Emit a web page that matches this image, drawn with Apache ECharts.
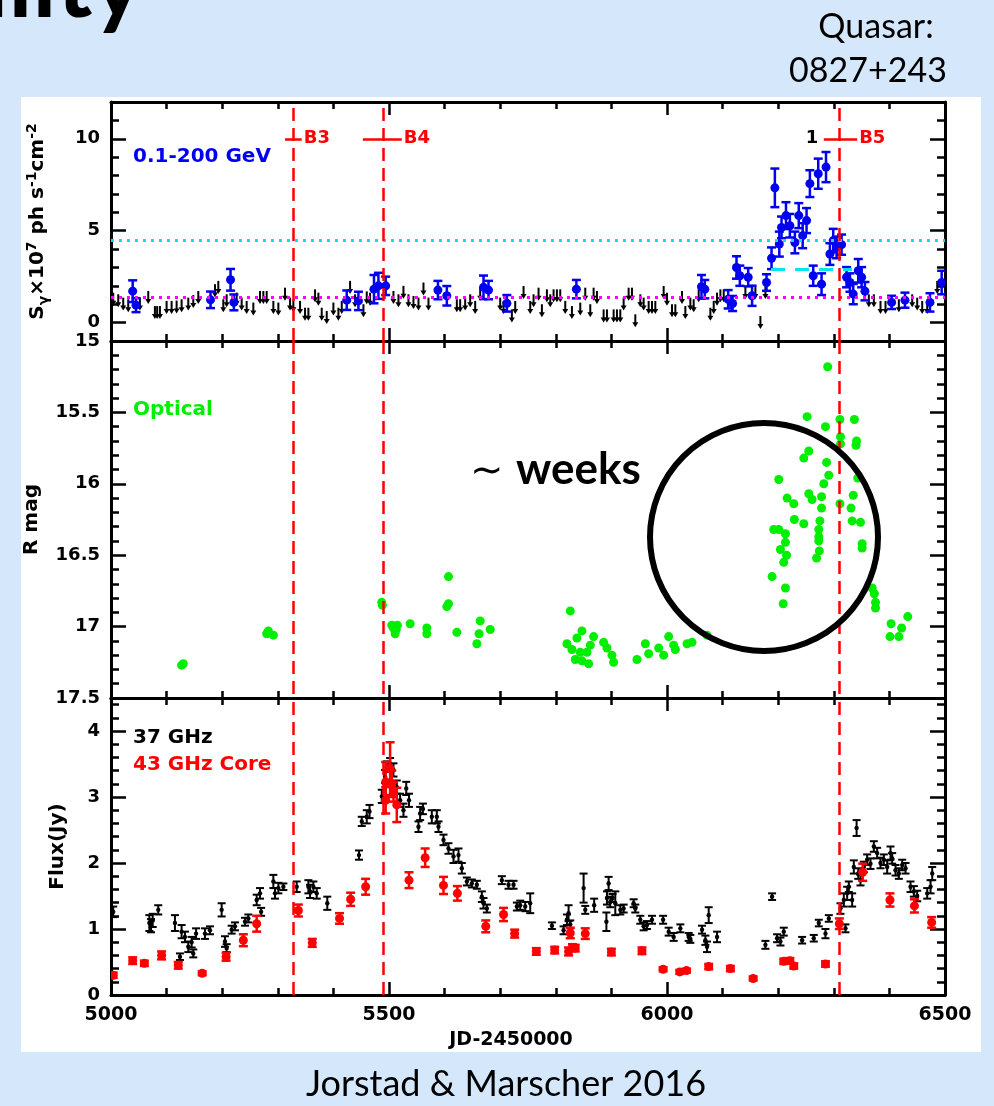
<!DOCTYPE html>
<html>
<head>
<meta charset="utf-8">
<title>0827+243 multi-wavelength light curves</title>
<script src="https://cdn.jsdelivr.net/npm/echarts@6/dist/echarts.min.js"></script>
<style>
  html, body { margin: 0; padding: 0; background: #d5e8fb; }
  #chart { width: 994px; height: 1106px; }
</style>
</head>
<body>
<div id="chart"></div>
<script>
// ---------------- data ----------------
// time axis (JD - 2450000)
const X_MIN = 5000, X_MAX = 6500, X_STEP = 500;

// y ranges, minor steps and labelled ticks of the three panels
const gammaRange = [-1, 12], gammaMinor = 1, gammaTicks = [0, 5, 10];
const magRange = [15, 17.5], magMinor = 0.1, magTicks = [15, 15.5, 16, 16.5, 17, 17.5];
const fluxRange = [0, 4.5], fluxMinor = 0.2, fluxTicks = [0, 1, 2, 3, 4];

// flare epochs (vertical dashed lines) and their time spans
const burstNames = ['B3', 'B4', 'B5'];
const burstJD = [5327, 5489, 6309];
const burstStart = [5313, 5453, 6282];
const burstEnd = [5343, 5523, 6342];
const burstLevel = 10;
const gammaFlareTag = { text: '1', jd: 6261, level: 10 };

// gamma-ray reference levels
const gammaMeanLevel = 1.36;
const gammaHighLevel = 4.46;
const gammaFlareLevel = 2.9;
const gammaFlareSpan = [6187, 6333];

// Fermi 0.1-200 GeV detections
const gammaJD = [5039, 5045, 5179, 5215, 5221, 5424, 5445, 5473, 5481, 5494, 5588, 5604, 5670, 5679, 5712,
  5837, 6062, 6068, 6110, 6118, 6125, 6131, 6146, 6153, 6179, 6188, 6194, 6202, 6206, 6214, 6221, 6230,
  6237, 6244, 6251, 6257, 6263, 6272, 6278, 6286, 6293, 6299, 6305, 6314, 6323, 6329, 6335, 6344, 6350,
  6356, 6404, 6428, 6473, 6494];
const gammaFlux = [1.71, 0.95, 1.24, 2.33, 1.10, 1.22, 1.18, 1.82, 2.00, 2.00, 1.77, 1.46, 1.92, 1.77, 1.05,
  1.82, 1.95, 1.82, 1.27, 1.04, 3.00, 2.55, 2.47, 1.46, 2.18, 3.50, 7.33, 4.27, 5.18, 5.82, 5.27, 4.36,
  5.82, 4.73, 5.55, 7.56, 2.55, 8.10, 2.09, 8.46, 3.73, 4.46, 4.09, 4.24, 2.47, 2.18, 1.55, 2.82, 2.47,
  1.71, 1.10, 1.22, 1.10, 2.18];
const gammaErr = [0.59, 0.38, 0.45, 0.59, 0.43, 0.53, 0.50, 0.77, 0.71, 0.50, 0.50, 0.53, 0.64, 0.50, 0.45,
  0.50, 0.64, 0.50, 0.50, 0.41, 0.61, 0.55, 0.50, 0.55, 0.45, 0.59, 1.05, 0.68, 0.59, 0.73, 0.64, 0.59,
  0.68, 0.68, 0.68, 0.73, 0.55, 0.82, 0.59, 0.82, 0.59, 0.64, 0.59, 0.55, 0.55, 0.50, 0.55, 0.64, 0.55,
  0.50, 0.36, 0.41, 0.50, 0.64];

// Fermi upper limits
const ulJD = [5004, 5013, 5022, 5031, 5052, 5067, 5079, 5083, 5088, 5100, 5109, 5118, 5127, 5139, 5148, 5157,
  5187, 5193, 5202, 5208, 5226, 5235, 5244, 5256, 5268, 5274, 5280, 5292, 5301, 5313, 5322, 5328, 5340,
  5349, 5355, 5367, 5373, 5379, 5388, 5400, 5409, 5415, 5430, 5439, 5454, 5460, 5466, 5508, 5517, 5526,
  5535, 5544, 5553, 5562, 5571, 5622, 5628, 5637, 5646, 5655, 5664, 5700, 5706, 5721, 5727, 5742, 5754,
  5760, 5769, 5775, 5784, 5790, 5796, 5802, 5808, 5817, 5829, 5844, 5853, 5862, 5868, 5874, 5886, 5892,
  5904, 5910, 5916, 5922, 5931, 5937, 5943, 5952, 5958, 5967, 5973, 5979, 5994, 6000, 6009, 6015, 6027,
  6033, 6042, 6048, 6057, 6078, 6084, 6090, 6096, 6102, 6141, 6159, 6168, 6177, 6363, 6372, 6384, 6393,
  6417, 6441, 6450, 6459, 6468, 6486];
const ulFlux = [1.63, 1.54, 1.36, 1.27, 1.36, 1.72, 0.90, 0.90, 0.90, 1.18, 1.18, 1.20, 1.27, 1.36, 1.50, 1.72,
  2.09, 2.27, 1.27, 1.54, 1.63, 1.36, 1.18, 1.09, 1.72, 1.72, 1.72, 1.18, 1.09, 1.90, 1.36, 1.27, 1.18,
  0.81, 0.81, 1.81, 1.63, 0.81, 0.63, 1.09, 0.81, 1.18, 2.27, 1.54, 1.00, 1.70, 1.63, 1.72, 1.54, 2.00,
  1.54, 1.45, 1.36, 2.18, 1.36, 1.27, 1.27, 1.36, 1.54, 1.18, 1.90, 1.36, 1.18, 0.72, 1.18, 1.99, 1.18,
  1.54, 1.90, 1.00, 1.81, 1.54, 1.81, 1.81, 1.81, 1.18, 0.90, 1.09, 1.90, 1.00, 1.90, 1.72, 0.72, 0.72,
  0.72, 0.72, 0.72, 1.36, 1.90, 1.90, 0.45, 1.54, 1.36, 1.18, 1.18, 1.18, 1.99, 1.63, 1.00, 1.00, 1.72,
  0.90, 1.36, 1.27, 1.81, 0.81, 1.18, 1.63, 1.81, 1.81, 1.99, 1.99, 0.36, 1.99, 1.54, 1.54, 1.18, 1.18,
  1.27, 1.54, 1.36, 1.18, 1.18, 2.27];

// optical R magnitudes
const optJD = [5127, 5130, 5280, 5283, 5292, 5487, 5488, 5505, 5508, 5511, 5513, 5515, 5538, 5568, 5568,
  5604, 5607, 5607, 5622, 5658, 5662, 5664, 5682,
  5820, 5826, 5829, 5835, 5838, 5844, 5847, 5847, 5856, 5859, 5862, 5868, 5886, 5892, 5901, 5904,
  5946, 5961, 5967, 5985, 5994, 6003, 6012, 6015, 6036, 6045, 6072,
  6189, 6192, 6201, 6204, 6209, 6210, 6213, 6213, 6213, 6215, 6201, 6216, 6228, 6229, 6246, 6246,
  6255, 6252, 6255, 6261, 6278, 6278, 6275, 6273, 6273, 6273, 6274, 6269, 6285, 6287, 6291, 6282,
  6289, 6311, 6312, 6312, 6311, 6337, 6341, 6340, 6343, 6335, 6331, 6333, 6348, 6351, 6351, 6369,
  6373, 6375, 6375, 6403, 6401, 6417, 6422, 6433];
const optMag = [17.27, 17.26, 17.05, 17.03, 17.06, 16.83, 16.85, 16.99, 17.01, 17.05, 17.02, 16.99, 16.98, 17.01, 17.05,
  16.86, 16.84, 16.65, 17.04, 17.12, 17.05, 16.96, 17.02,
  17.12, 16.89, 17.16, 17.23, 17.08, 17.18, 17.03, 17.24, 17.18, 17.26, 17.13, 17.07, 17.11, 17.15, 17.20, 17.25,
  17.23, 17.12, 17.19, 17.15, 17.20, 17.07, 17.13, 17.16, 17.12, 17.11, 17.06,
  16.65, 16.32, 16.32, 16.46, 16.84, 16.55, 16.35, 16.41, 16.73, 16.50, 15.97, 16.10, 16.14, 16.25, 16.28, 15.82,
  15.77, 15.53, 16.07, 16.11, 16.09, 16.17, 16.26, 16.32, 16.37, 16.40, 16.47, 16.52, 15.60, 15.85, 15.94, 16.00,
  15.18, 15.55, 15.67, 15.72, 16.14, 15.55, 15.70, 15.73, 15.96, 16.08, 16.17, 16.26, 16.27, 16.42, 16.45, 16.73,
  16.77, 16.83, 16.87, 16.98, 17.07, 17.07, 17.01, 16.93];

// 37 GHz single-dish flux density
const r37JD = [5004, 5069, 5072, 5075, 5085, 5115, 5124, 5127, 5133, 5139, 5145, 5148, 5153, 5169, 5178, 5199,
  5205, 5208, 5217, 5223, 5241, 5247, 5262, 5268, 5270, 5292, 5295, 5301, 5310, 5334, 5355, 5358, 5364,
  5370, 5389, 5446, 5451, 5460, 5465, 5487, 5493, 5496, 5502, 5508, 5514, 5520, 5526, 5531, 5536, 5553,
  5556, 5561, 5577, 5586, 5589, 5598, 5607, 5616, 5625, 5631, 5640, 5649, 5658, 5667, 5670, 5676, 5703,
  5715, 5724, 5730, 5736, 5745, 5754, 5793, 5814, 5820, 5823, 5826, 5850, 5853, 5869, 5891, 5892, 5895,
  5898, 5902, 5907, 5916, 5922, 5940, 5943, 5952, 5958, 5964, 5973, 5993, 6003, 6012, 6024, 6039, 6042,
  6063, 6069, 6072, 6075, 6090, 6177, 6189, 6198, 6204, 6210, 6243, 6264, 6273, 6285, 6291, 6312, 6318,
  6321, 6324, 6327, 6333, 6336, 6341, 6344, 6348, 6354, 6360, 6366, 6372, 6378, 6384, 6390, 6396, 6402,
  6405, 6411, 6417, 6423, 6429, 6438, 6444, 6450, 6468, 6474, 6477];
const r37Flux = [1.26, 1.09, 1.05, 1.13, 1.29, 1.09, 0.58, 0.96, 0.88, 0.73, 0.80, 0.63, 0.93, 0.93, 0.98, 1.29,
  0.81, 0.71, 0.99, 1.04, 1.11, 1.16, 1.44, 1.54, 1.26, 1.72, 1.54, 1.62, 1.64, 1.64, 1.64, 1.57, 1.64,
  1.54, 1.39, 2.12, 2.63, 2.70, 2.78, 3.01, 3.31, 3.46, 3.51, 3.41, 3.15, 2.95, 2.80, 3.13, 2.95, 2.55,
  2.75, 2.82, 2.70, 2.70, 2.55, 2.35, 2.22, 2.10, 2.12, 1.92, 1.72, 1.69, 1.67, 1.49, 1.39, 1.31, 1.74,
  1.67, 1.67, 1.34, 1.36, 1.34, 1.39, 1.05, 0.98, 1.14, 1.24, 1.07, 1.62, 1.29, 1.36, 1.11, 1.47, 1.69,
  1.41, 1.47, 1.39, 1.29, 1.31, 1.39, 1.31, 1.14, 1.04, 1.06, 1.14, 1.14, 0.96, 0.88, 1.01, 0.88, 0.85,
  0.99, 0.83, 0.73, 1.21, 0.88, 0.76, 1.49, 0.86, 0.81, 0.96, 0.83, 0.86, 1.09, 0.93, 1.16, 1.31, 1.44,
  1.01, 1.54, 1.64, 1.44, 1.94, 2.53, 1.84, 1.74, 1.94, 2.05, 1.99, 2.25, 2.15, 2.00, 2.05, 1.94, 2.15,
  2.07, 1.89, 1.84, 1.97, 1.92, 1.64, 1.57, 1.50, 1.54, 1.64, 1.84];
const r37Err = [0.08, 0.12, 0.10, 0.10, 0.07, 0.12, 0.05, 0.10, 0.08, 0.08, 0.08, 0.06, 0.08, 0.08, 0.06, 0.10,
  0.08, 0.06, 0.06, 0.06, 0.06, 0.06, 0.08, 0.08, 0.06, 0.10, 0.08, 0.08, 0.05, 0.08, 0.10, 0.10, 0.08,
  0.08, 0.10, 0.07, 0.07, 0.10, 0.10, 0.10, 0.10, 0.08, 0.08, 0.10, 0.10, 0.10, 0.10, 0.10, 0.10, 0.08,
  0.10, 0.08, 0.10, 0.10, 0.08, 0.08, 0.08, 0.10, 0.10, 0.08, 0.06, 0.06, 0.06, 0.08, 0.08, 0.06, 0.06,
  0.06, 0.06, 0.06, 0.07, 0.07, 0.15, 0.05, 0.06, 0.08, 0.12, 0.06, 0.22, 0.06, 0.10, 0.14, 0.10, 0.10,
  0.08, 0.06, 0.18, 0.07, 0.06, 0.06, 0.06, 0.06, 0.06, 0.06, 0.06, 0.06, 0.06, 0.06, 0.06, 0.06, 0.06,
  0.06, 0.07, 0.08, 0.12, 0.08, 0.06, 0.05, 0.06, 0.06, 0.06, 0.05, 0.05, 0.05, 0.07, 0.05, 0.08, 0.10,
  0.06, 0.10, 0.08, 0.10, 0.10, 0.12, 0.08, 0.08, 0.08, 0.08, 0.08, 0.08, 0.08, 0.08, 0.08, 0.10, 0.10,
  0.08, 0.08, 0.08, 0.08, 0.08, 0.08, 0.08, 0.08, 0.08, 0.10, 0.10];

// 43 GHz VLBA core flux density
const c43JD = [5004, 5039, 5060, 5091, 5121, 5164, 5207, 5238, 5262, 5337, 5362, 5411, 5431, 5458, 5494, 5494,
  5502, 5505, 5508, 5514, 5536, 5565, 5598, 5623, 5674, 5706, 5726, 5765, 5798, 5823, 5826, 5830, 5835,
  5853, 5900, 5955, 5993, 6023, 6035, 6075, 6114, 6155, 6210, 6221, 6228, 6285, 6310, 6352, 6401, 6445, 6476];
const c43Flux = [0.30, 0.52, 0.48, 0.60, 0.45, 0.33, 0.58, 0.83, 1.08, 1.28, 0.79, 1.16, 1.45, 1.64, 3.23, 2.95,
  3.43, 3.20, 3.08, 2.88, 1.74, 2.08, 1.66, 1.54, 1.04, 1.22, 0.93, 0.66, 0.68, 0.66, 0.94, 0.72, 0.71,
  0.93, 0.65, 0.67, 0.39, 0.35, 0.37, 0.43, 0.40, 0.25, 0.51, 0.52, 0.44, 0.47, 1.08, 1.86, 1.44, 1.35, 1.10];
const c43Err = [0.04, 0.05, 0.04, 0.06, 0.05, 0.03, 0.06, 0.09, 0.12, 0.09, 0.06, 0.08, 0.10, 0.12, 0.30, 0.20,
  0.40, 0.20, 0.15, 0.26, 0.12, 0.14, 0.13, 0.11, 0.09, 0.10, 0.06, 0.05, 0.05, 0.06, 0.08, 0.05, 0.05,
  0.08, 0.05, 0.05, 0.03, 0.03, 0.03, 0.04, 0.04, 0.03, 0.04, 0.04, 0.04, 0.04, 0.08, 0.13, 0.10, 0.10, 0.08];

// ---------------- layout & styles ----------------
const GRID_LEFT = 111, GRID_RIGHT = 49;
const panelTop = [102, 341, 698];
const panelHeight = [239, 357, 297];
const PLOT_FONT = '"DejaVu Sans", sans-serif';
const SLIDE_FONT = 'Lato, "Open Sans", sans-serif';
const BLUE = '#0000f0', GREEN = '#00ee00', RED = '#ff0000', BLACK = '#000000';
const CYAN = '#00e6ee', MAGENTA = '#ff00ff';

const zip3 = (a, b, c) => a.map((v, i) => [v, b[i], c ? c[i] : 0]);

function xAxes(g) {
  const base = {
    type: 'value', gridIndex: g, min: X_MIN, max: X_MAX, interval: X_STEP,
    splitLine: { show: false },
    axisLine: { show: true, onZero: false, lineStyle: { color: BLACK, width: 3 } },
    axisTick: { show: true, inside: true, length: 13, lineStyle: { color: BLACK, width: 2.5 } },
    minorTick: { show: true, splitNumber: 5, length: 7, lineStyle: { color: BLACK, width: 2.5 } }
  };
  return [
    Object.assign({}, base, {
      position: 'bottom',
      axisLabel: g === 2
        ? { show: true, margin: 11, color: BLACK, fontFamily: PLOT_FONT, fontWeight: 'bold', fontSize: 19,
            formatter: v => String(v) }
        : { show: false }
    }),
    Object.assign({}, base, { position: 'top', axisLabel: { show: false } })
  ];
}

function yAxes(g, range, step, ticks, name, nameGap, inverse, rich) {
  const out = [];
  ['left', 'right'].forEach(function (pos) {
    const common = {
      type: 'value', gridIndex: g, position: pos, min: range[0], max: range[1], interval: step,
      inverse: !!inverse, splitLine: { show: false }
    };
    // short ticks at every minor step
    out.push(Object.assign({}, common, {
      axisLine: { show: true, onZero: false, lineStyle: { color: BLACK, width: 3 } },
      axisTick: { show: true, inside: true, length: 8, lineStyle: { color: BLACK, width: 2.5 } },
      axisLabel: { show: false }
    }));
    // long ticks and labels at the labelled values
    out.push(Object.assign({}, common, {
      axisLine: { show: false, onZero: false },
      axisTick: { show: true, inside: true, length: 15, customValues: ticks, lineStyle: { color: BLACK, width: 2.5 } },
      axisLabel: pos === 'left'
        ? { show: true, customValues: ticks, margin: 11, color: BLACK, fontFamily: PLOT_FONT, fontWeight: 'bold', fontSize: 18,
            formatter: v => String(v) }
        : { show: false },
      name: pos === 'left' ? name : '',
      nameLocation: 'middle', nameGap: nameGap, nameRotate: 90,
      nameTextStyle: { color: BLACK, fontFamily: PLOT_FONT, fontWeight: 'bold', fontSize: 20, lineHeight: 26, rich: rich || {} }
    }));
  });
  return out;
}

// error bar with caps and a filled marker
function errorBarItem(color, r, cap, width) {
  return function (params, api) {
    const x = api.value(0), y = api.value(1), e = api.value(2);
    const p = api.coord([x, y]);
    const lo = api.coord([x, y - e])[1], hi = api.coord([x, y + e])[1];
    const st = { stroke: color, lineWidth: width };
    return {
      type: 'group',
      children: [
        { type: 'line', shape: { x1: p[0], y1: lo, x2: p[0], y2: hi }, style: st },
        { type: 'line', shape: { x1: p[0] - cap, y1: lo, x2: p[0] + cap, y2: lo }, style: st },
        { type: 'line', shape: { x1: p[0] - cap, y1: hi, x2: p[0] + cap, y2: hi }, style: st },
        { type: 'circle', shape: { cx: p[0], cy: p[1], r: r }, style: { fill: color } }
      ]
    };
  };
}

// downward arrow for an upper limit
function upperLimitItem(params, api) {
  const p = api.coord([api.value(0), api.value(1)]);
  const len = 13;
  return {
    type: 'group',
    children: [
      { type: 'line', shape: { x1: p[0], y1: p[1], x2: p[0], y2: p[1] + len - 3 }, style: { stroke: BLACK, lineWidth: 2 } },
      { type: 'polygon', shape: { points: [[p[0] - 3, p[1] + len - 5], [p[0] + 3, p[1] + len - 5], [p[0], p[1] + len]] }, style: { fill: BLACK } }
    ]
  };
}

const vLine = { color: RED, width: 2.5, type: [13, 7] };
const burstVerticals = burstJD.map(v => ({ xAxis: v, lineStyle: vLine }));

const burstSegments = burstNames.map((n, i) => [
  { coord: [burstStart[i], burstLevel], name: n },
  { coord: [burstEnd[i], burstLevel] }
]);

const tagFont = { color: RED, fontFamily: PLOT_FONT, fontWeight: 'bold', fontSize: 18 };
const subStyle = { fontFamily: PLOT_FONT, fontWeight: 'bold', fontSize: 14, lineHeight: 14, verticalAlign: 'bottom' };
const supStyle = { fontFamily: PLOT_FONT, fontWeight: 'bold', fontSize: 14, lineHeight: 14, verticalAlign: 'top' };

const option = {
  animation: false,
  backgroundColor: 'transparent',
  grid: panelTop.map((t, i) => ({ left: GRID_LEFT, right: GRID_RIGHT, top: t, height: panelHeight[i], containLabel: false })),
  xAxis: [].concat(xAxes(0), xAxes(1), xAxes(2)),
  yAxis: [].concat(
    yAxes(0, gammaRange, gammaMinor, gammaTicks,
      'S{sub|γ}×10{sup|7} ph s{sup|-1}cm{sup|-2}', 60, false, { sub: subStyle, sup: supStyle }),
    yAxes(1, magRange, magMinor, magTicks, 'R mag', 66, true),
    yAxes(2, fluxRange, fluxMinor, fluxTicks, 'Flux(Jy)', 40, false)
  ),
  series: [
    // ---- gamma-ray panel ----
    {
      name: 'upper limits', type: 'custom', xAxisIndex: 0, yAxisIndex: 0, clip: true,
      renderItem: upperLimitItem, encode: { x: 0, y: 1 },
      data: zip3(ulJD, ulFlux),
      markLine: {
        silent: true, symbol: ['none', 'none'], animation: false,
        label: { show: false },
        data: [
          { yAxis: gammaHighLevel, lineStyle: { color: CYAN, width: 3, type: [3, 5] } },
          { yAxis: gammaMeanLevel, lineStyle: { color: MAGENTA, width: 3, type: [3, 5] } },
          [{ coord: [gammaFlareSpan[0], gammaFlareLevel] }, { coord: [gammaFlareSpan[1], gammaFlareLevel] }]
        ].concat(burstVerticals),
        lineStyle: { color: CYAN, width: 3, type: [14, 10] }
      }
    },
    {
      name: '0.1-200 GeV', type: 'custom', xAxisIndex: 0, yAxisIndex: 0, clip: true,
      renderItem: errorBarItem(BLUE, 4.5, 4.5, 2.5), encode: { x: 0, y: 1 },
      data: zip3(gammaJD, gammaFlux, gammaErr),
      markLine: {
        silent: true, symbol: ['none', 'none'], animation: false,
        lineStyle: { color: RED, width: 2.5, type: 'solid' },
        label: Object.assign({ show: true, position: 'end', distance: 2, formatter: '{b}' }, tagFont),
        data: burstSegments
      },
      markPoint: {
        silent: true, symbol: 'circle', symbolSize: 0,
        label: { show: true, position: 'inside', formatter: gammaFlareTag.text, color: BLACK, fontFamily: PLOT_FONT, fontWeight: 'bold', fontSize: 18 },
        data: [{ coord: [gammaFlareTag.jd, gammaFlareTag.level] }]
      }
    },
    // ---- optical panel ----
    {
      name: 'Optical', type: 'scatter', xAxisIndex: 2, yAxisIndex: 4, clip: true,
      symbol: 'circle', symbolSize: 9, itemStyle: { color: GREEN, opacity: 1 },
      data: optJD.map((v, i) => [v, optMag[i]]),
      markLine: { silent: true, symbol: ['none', 'none'], label: { show: false }, data: burstVerticals }
    },
    // ---- radio panel ----
    {
      name: '37 GHz', type: 'custom', xAxisIndex: 4, yAxisIndex: 8, clip: true,
      renderItem: errorBarItem(BLACK, 2.2, 4, 2), encode: { x: 0, y: 1 },
      data: zip3(r37JD, r37Flux, r37Err),
      markLine: { silent: true, symbol: ['none', 'none'], label: { show: false }, data: burstVerticals }
    },
    {
      name: '43 GHz Core', type: 'custom', xAxisIndex: 4, yAxisIndex: 8, clip: true,
      renderItem: errorBarItem(RED, 4.5, 4.5, 2.5), encode: { x: 0, y: 1 },
      data: zip3(c43JD, c43Flux, c43Err)
    }
  ],
  graphic: [
    // white figure card on the slide
    { type: 'rect', z: -100, shape: { x: 21, y: 97, width: 960, height: 955 }, style: { fill: '#ffffff' } },
    // slide title (runs off the top edge)
    { type: 'text', z: 100, x: 143, y: -14,
      style: { text: 'Variability', fill: BLACK, font: 'bold 96px ' + SLIDE_FONT, align: 'right', textAlign: 'right', verticalAlign: 'middle', textVerticalAlign: 'middle' } },
    { type: 'text', z: 100, x: 876, y: 27,
      style: { text: 'Quasar:', fill: BLACK, font: '34px ' + SLIDE_FONT, align: 'center', textAlign: 'center', verticalAlign: 'middle', textVerticalAlign: 'middle' } },
    { type: 'text', z: 100, x: 868, y: 71,
      style: { text: '0827+243', fill: BLACK, font: '34px ' + SLIDE_FONT, align: 'center', textAlign: 'center', verticalAlign: 'middle', textVerticalAlign: 'middle' } },
    { type: 'text', z: 100, x: 506, y: 1084,
      style: { text: 'Jorstad & Marscher 2016', fill: BLACK, font: '36px ' + SLIDE_FONT, align: 'center', textAlign: 'center', verticalAlign: 'middle', textVerticalAlign: 'middle' } },
    // x axis title
    { type: 'text', z: 100, x: 511, y: 1040,
      style: { text: 'JD-2450000', fill: BLACK, font: 'bold 19px ' + PLOT_FONT, align: 'center', textAlign: 'center', verticalAlign: 'middle', textVerticalAlign: 'middle' } },
    // panel legends
    { type: 'text', z: 100, x: 133, y: 157,
      style: { text: '0.1-200 GeV', fill: BLUE, font: 'bold 20px ' + PLOT_FONT, align: 'left', textAlign: 'left', verticalAlign: 'middle', textVerticalAlign: 'middle' } },
    { type: 'text', z: 100, x: 133, y: 410,
      style: { text: 'Optical', fill: GREEN, font: 'bold 20px ' + PLOT_FONT, align: 'left', textAlign: 'left', verticalAlign: 'middle', textVerticalAlign: 'middle' } },
    { type: 'text', z: 100, x: 133, y: 738,
      style: { text: '37 GHz', fill: BLACK, font: 'bold 20px ' + PLOT_FONT, align: 'left', textAlign: 'left', verticalAlign: 'middle', textVerticalAlign: 'middle' } },
    { type: 'text', z: 100, x: 133, y: 765,
      style: { text: '43 GHz Core', fill: RED, font: 'bold 20px ' + PLOT_FONT, align: 'left', textAlign: 'left', verticalAlign: 'middle', textVerticalAlign: 'middle' } },
    // highlighted optical flare
    { type: 'circle', z: 100, shape: { cx: 764, cy: 537, r: 114 }, style: { fill: 'none', stroke: BLACK, lineWidth: 6 } },
    { type: 'text', z: 100, x: 470, y: 470,
      style: { text: '∼', fill: BLACK, font: '40px ' + SLIDE_FONT, align: 'left', textAlign: 'left', verticalAlign: 'middle', textVerticalAlign: 'middle' } },
    { type: 'text', z: 100, x: 516, y: 470,
      style: { text: 'weeks', fill: BLACK, font: 'bold 44px ' + SLIDE_FONT, align: 'left', textAlign: 'left', verticalAlign: 'middle', textVerticalAlign: 'middle' } }
  ]
};

const chart = echarts.init(document.getElementById('chart'), null, { renderer: 'canvas', width: 994, height: 1106 });
chart.setOption(option);
</script>
</body>
</html>
